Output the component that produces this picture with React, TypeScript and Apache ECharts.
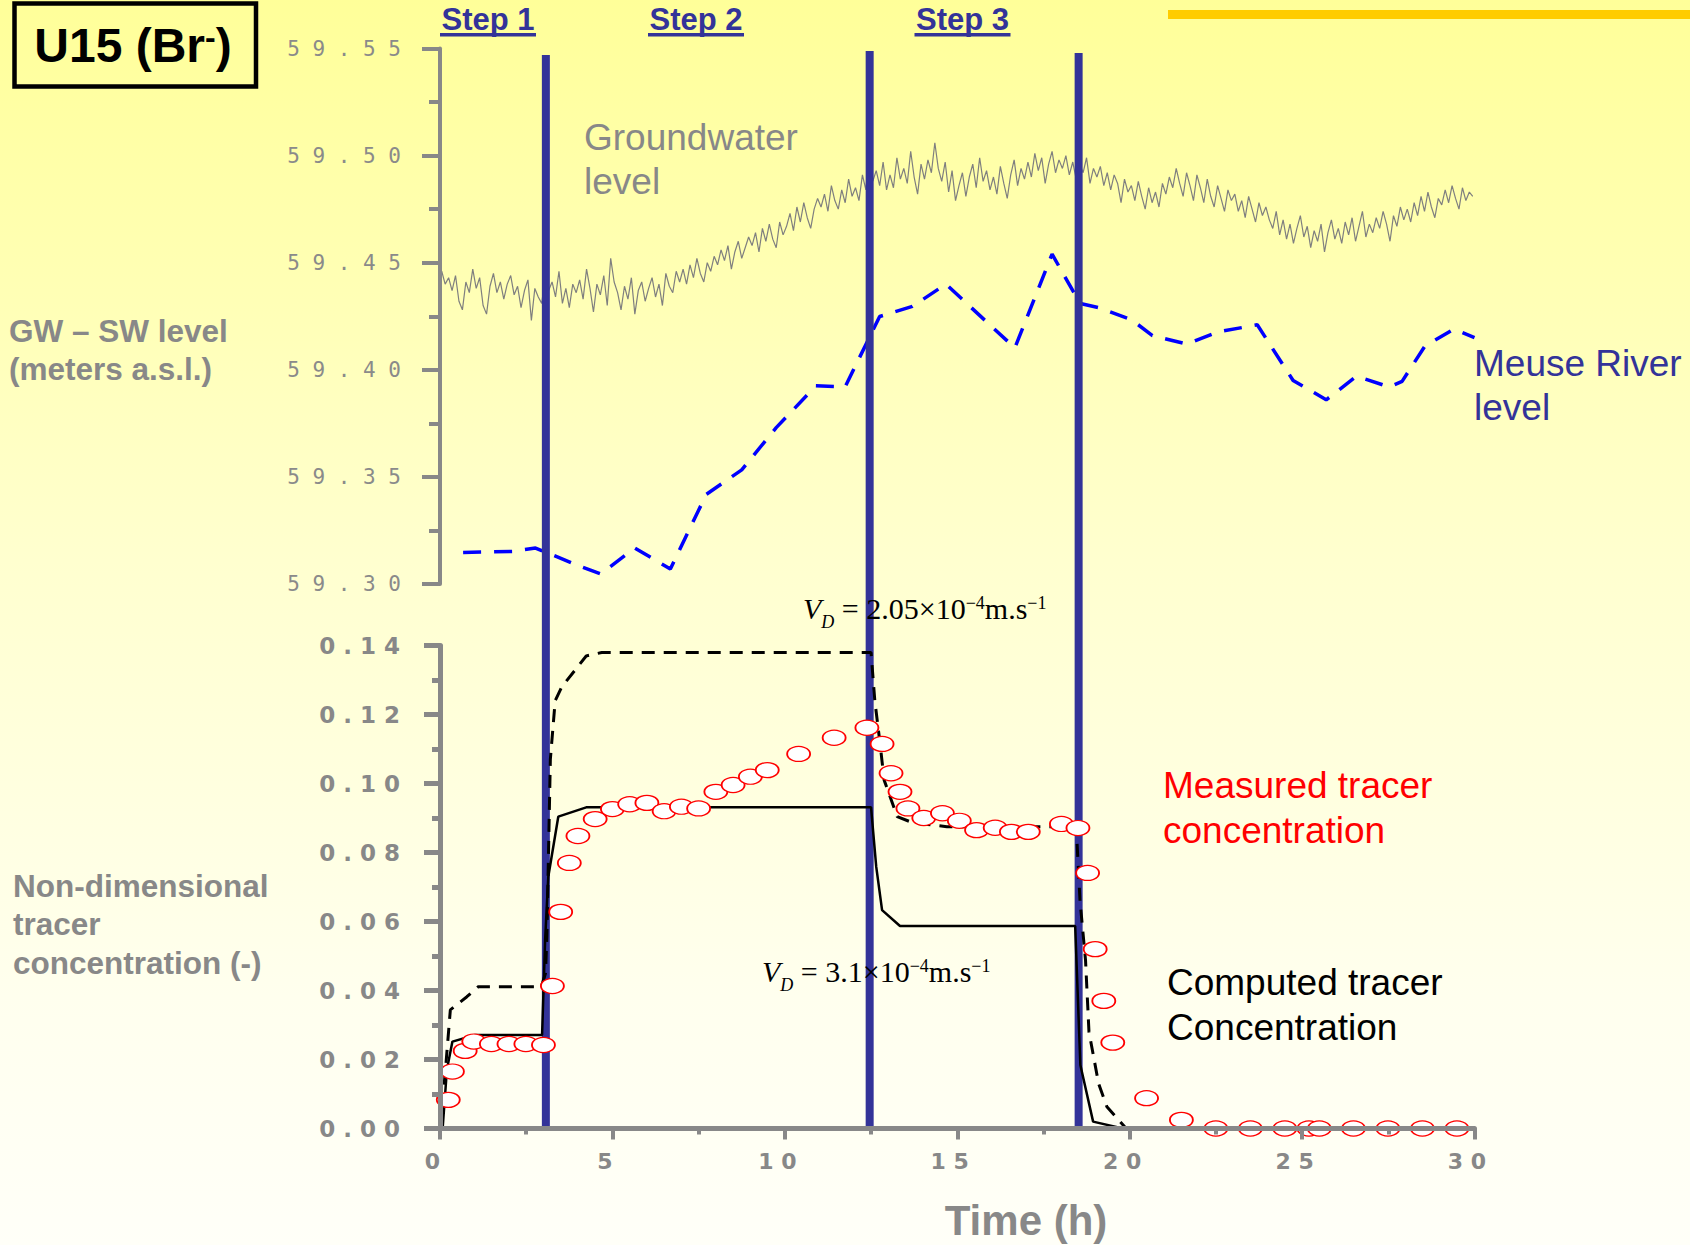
import React, { useEffect, useRef } from "react";
import * as echarts from "echarts";

// ---------------- data ----------------
const timeMin = 0;
const timeMax = 30;
const timeInterval = 5;

const levelMin = 59.3;
const levelMax = 59.55;
const levelInterval = 0.05;

const concMin = 0;
const concMax = 0.14;
const concInterval = 0.02;

// Groundwater level (m a.s.l.), sampled every 0.1 h from t = 0.05 h (one row per hour)
const gwStart = 0.05;
const gwStep = 0.1;
const gwLevel = [
  59.446, 59.44, 59.443, 59.437, 59.444, 59.432, 59.428, 59.441, 59.436, 59.447,
  59.438, 59.443, 59.43, 59.426, 59.439, 59.445, 59.436, 59.441, 59.433, 59.44,
  59.444, 59.435, 59.439, 59.429, 59.437, 59.442, 59.423, 59.438, 59.434, 59.431,
  59.443, 59.437, 59.441, 59.434, 59.446, 59.431, 59.438, 59.429, 59.44, 59.436,
  59.442, 59.433, 59.447, 59.438, 59.427, 59.44, 59.435, 59.444, 59.43, 59.452,
  59.441, 59.436, 59.428, 59.439, 59.433, 59.443, 59.426, 59.437, 59.441, 59.432,
  59.438, 59.443, 59.434, 59.44, 59.43, 59.445, 59.439, 59.436, 59.446, 59.441,
  59.447, 59.44, 59.449, 59.443, 59.452, 59.445, 59.441, 59.45, 59.446, 59.453,
  59.449, 59.456, 59.451, 59.458, 59.447, 59.455, 59.46, 59.452, 59.457, 59.462,
  59.458, 59.464, 59.455, 59.466, 59.46, 59.468, 59.461, 59.457, 59.469, 59.463,
  59.467, 59.473, 59.465, 59.476, 59.469, 59.478, 59.471, 59.466, 59.475, 59.48,
  59.476, 59.482, 59.474, 59.486, 59.479, 59.475, 59.484, 59.478, 59.489, 59.481,
  59.485, 59.479, 59.491, 59.484, 59.503, 59.488, 59.493, 59.486, 59.497, 59.484,
  59.491, 59.485, 59.499, 59.489, 59.494, 59.487, 59.502, 59.49, 59.482, 59.496,
  59.489, 59.498, 59.492, 59.506, 59.494, 59.488, 59.497, 59.483, 59.493, 59.479,
  59.486, 59.492, 59.481, 59.49, 59.496, 59.485, 59.499, 59.488, 59.493, 59.484,
  59.49, 59.482, 59.495, 59.487, 59.48, 59.491, 59.498, 59.486, 59.494, 59.489,
  59.497, 59.49, 59.501, 59.493, 59.499, 59.487, 59.496, 59.502, 59.492, 59.498,
  59.494, 59.5, 59.491, 59.497, 59.489, 59.496, 59.492, 59.499, 59.487, 59.494,
  59.49, 59.495, 59.486, 59.492, 59.484, 59.491, 59.487, 59.478, 59.489, 59.483,
  59.486, 59.479, 59.488, 59.481, 59.475, 59.485, 59.478, 59.483, 59.476, 59.487,
  59.482, 59.49, 59.485, 59.494, 59.487, 59.481, 59.492, 59.486, 59.479, 59.491,
  59.485, 59.478, 59.489, 59.481, 59.476, 59.486, 59.48, 59.474, 59.484, 59.479,
  59.482, 59.474, 59.479, 59.471, 59.481, 59.475, 59.469, 59.478, 59.472, 59.476,
  59.47, 59.466, 59.474, 59.463, 59.47, 59.461, 59.468, 59.459, 59.466, 59.472,
  59.462, 59.467, 59.457, 59.465, 59.46, 59.468, 59.455, 59.464, 59.47, 59.461,
  59.466, 59.459, 59.469, 59.463, 59.471, 59.46, 59.467, 59.474, 59.462, 59.468,
  59.464, 59.471, 59.466, 59.474, 59.468, 59.46, 59.472, 59.467, 59.476, 59.47,
  59.475, 59.469, 59.478, 59.472, 59.481, 59.474, 59.483, 59.476, 59.471, 59.48,
  59.477, 59.484, 59.478, 59.486, 59.48, 59.475, 59.485, 59.479, 59.483, 59.481,
];

// Meuse River level
const riverTime = [
  0.67, 2.1, 2.77, 4.1, 4.66, 5.65, 6.68, 7.72, 8.75, 9.75, 10.9, 11.75, 12.75, 13.7, 14.67, 16.67,
  17.75, 18.56, 19.1, 20.06, 20.66, 21.66, 22.56, 23.7, 24.74, 25.7, 26.58, 27.53, 27.9, 28.56, 29.4, 30.0,
];
const riverLevel = [
  59.3147, 59.3152, 59.3168, 59.308, 59.3047, 59.3168, 59.307, 59.3418, 59.3533, 59.373, 59.3925, 59.3921,
  59.4249, 59.4296, 59.44, 59.4102, 59.454, 59.431, 59.429, 59.4233, 59.416, 59.412, 59.4177, 59.421,
  59.395, 59.386, 59.397, 59.392, 59.3946, 59.411, 59.419, 59.415,
];

// Measured tracer concentration
const measTime = [
  0.24, 0.36, 0.73, 0.98, 1.49, 2.0, 2.49, 3.0, 3.26, 3.5, 3.75, 4.0, 4.5, 5.0, 5.5, 6.0, 6.5, 7.0,
  7.5, 8.0, 8.5, 9.0, 9.49, 10.4, 11.43, 12.38, 12.82, 13.08, 13.34, 13.57, 14.03, 14.57, 15.06, 15.56,
  16.1, 16.57, 17.06, 18.02, 18.5, 18.78, 19.0, 19.25, 19.51, 20.49, 21.5, 22.5, 23.5, 24.5, 25.2, 25.5,
  26.49, 27.49, 28.49, 29.49,
];
const measConc = [
  0.0083, 0.0165, 0.0225, 0.0252, 0.0245, 0.0245, 0.0245, 0.0242, 0.0413, 0.0628, 0.077, 0.0848, 0.0897,
  0.0926, 0.094, 0.0944, 0.092, 0.0933, 0.0928, 0.0976, 0.0996, 0.102, 0.1039, 0.1086, 0.1133, 0.1162,
  0.1115, 0.103, 0.0976, 0.0928, 0.09, 0.0914, 0.0892, 0.0865, 0.0872, 0.086, 0.086, 0.0883, 0.0871,
  0.0741, 0.052, 0.037, 0.0249, 0.0088, 0.0025, 0, 0, 0, 0, 0, 0, 0, 0, 0,
];

// Computed concentration, V_D = 3.1e-4 m/s (solid)
const fastTime = [0, 0.08, 0.2, 0.36, 1.02, 2.96, 3.05, 3.14, 3.43, 4.24, 12.5, 12.65, 12.82, 13.34, 18.42, 18.57, 18.94, 19.8, 30];
const fastConc = [0, 0.0005, 0.017, 0.0252, 0.0271, 0.0271, 0.055, 0.073, 0.0904, 0.0931, 0.0931, 0.0759, 0.0633, 0.0587, 0.0587, 0.0184, 0.002, 0, 0];

// Computed concentration, V_D = 2.05e-4 m/s (dashed)
const slowTime = [
  0, 0.15, 0.3, 0.78, 1.11, 2.94, 3.06, 3.1, 3.2, 3.34, 3.53, 4.24, 4.69, 12.5, 12.61, 12.76, 12.88,
  13.26, 13.72, 14.7, 18.45, 18.56, 18.72, 18.82, 19.1, 19.34, 19.9, 30,
];
const slowConc = [
  0, 0.016, 0.0344, 0.0382, 0.0411, 0.0411, 0.045, 0.056, 0.107, 0.124, 0.128, 0.137, 0.138, 0.138, 0.124,
  0.1117, 0.101, 0.0904, 0.0886, 0.0875, 0.0875, 0.066, 0.0488, 0.028, 0.013, 0.0063, 0, 0,
];

// Step boundaries (h) and their top (fraction of the full plot height)
const stepTimes = [3.07, 12.46, 18.52];
const stepTops = [0.994, 0.9977, 0.9958];
const stepLabels = ["Step 1", "Step 2", "Step 3"];

// ---------------- styling / layout ----------------
const W = 1690;
const H = 1245;
const GREY = "#888888";
const NAVY = "#333399";
const SANS = "Liberation Sans, Arial, sans-serif";
const SERIF = "Liberation Serif, Times New Roman, serif";
const PLOT_LEFT = 440;
const PLOT_W = 1034.5;
const TOP_Y0 = 48.5;
const TOP_Y1 = 584;
const BOT_Y0 = 645.6;
const BOT_Y1 = 1128.5;
const stepLabelX = [488, 696, 962.5];

const bgStops = [
  { offset: 0, color: "#FFFF99" },
  { offset: 0.45, color: "#FFFFCF" },
  { offset: 0.8, color: "#FFFFEE" },
  { offset: 1, color: "#FFFFF8" },
];

const spaced = (s: string) => s.split("").join(" ");
const zip = (a: number[], b: number[]) => a.map((v, i) => [v, b[i]]);

function txt(x: number, y: number, text: string, o: any) {
  return {
    type: "text",
    x,
    y,
    z: 20,
    style: {
      text,
      fontFamily: SANS,
      align: o.align || "left",
      textAlign: o.align || "left",
      verticalAlign: "middle",
      textVerticalAlign: "middle",
      ...o,
    },
  };
}

function vdRich(x: number, y: number, value: string) {
  const base = { fontFamily: SERIF, fill: "#000", verticalAlign: "bottom" };
  return {
    type: "text",
    x,
    y,
    z: 20,
    style: {
      text: `{v|V}{d|D}{n| = ${value}×10}{p|−4}{n|m.s}{p|−1}`,
      verticalAlign: "middle",
      textVerticalAlign: "middle",
      rich: {
        v: { ...base, fontSize: 30, fontStyle: "italic", padding: [0, 0, 7, 0] },
        d: { ...base, fontSize: 18, fontStyle: "italic" },
        n: { ...base, fontSize: 30, padding: [0, 0, 7, 0] },
        p: { ...base, fontSize: 18, verticalAlign: "top" },
      },
    },
  };
}

function buildOption() {
  const bg = new echarts.graphic.LinearGradient(0, 0, 0, 1, bgStops);
  const coverFill = new echarts.graphic.LinearGradient(0, 0, 0, H, bgStops, true);

  const hiddenX = (gridIndex: number) => ({ gridIndex, type: "value", min: timeMin, max: timeMax, show: false });

  const stepSeries = stepTimes.map((t, i) => ({
    type: "line",
    xAxisIndex: 2,
    yAxisIndex: 2,
    symbol: "none",
    lineStyle: { color: NAVY, width: 8, cap: "butt" },
    data: [
      [t, 0],
      [t, stepTops[i]],
    ],
    z: 3,
  }));

  const graphics: any[] = [
    // title box
    {
      type: "rect",
      z: 20,
      shape: { x: 14.5, y: 3.5, width: 241.5, height: 83 },
      style: { fill: "transparent", stroke: "#000", lineWidth: 4.5 },
    },
    {
      type: "text",
      x: 133,
      y: 45,
      z: 20,
      style: {
        text: "{a|U15 (Br}{s|-}{a|)}",
        align: "center",
        textAlign: "center",
        verticalAlign: "middle",
        textVerticalAlign: "middle",
        rich: {
          a: { fontFamily: SANS, fontWeight: "bold", fontSize: 48, fill: "#000", verticalAlign: "bottom" },
          s: { fontFamily: SANS, fontWeight: "bold", fontSize: 32, fill: "#000", verticalAlign: "top" },
        },
      },
    },
    // top-right decorative bar
    { type: "rect", z: 20, shape: { x: 1168, y: 10, width: 522, height: 9 }, style: { fill: "#FFCC00" } },
    // axis titles
    txt(9, 350, "GW – SW level\n(meters a.s.l.)", { fontSize: 31.5, fontWeight: "bold", fill: GREY, lineHeight: 38 }),
    txt(13, 924, "Non-dimensional\ntracer\nconcentration (-)", { fontSize: 31.5, fontWeight: "bold", fill: GREY, lineHeight: 38.5 }),
    txt(1026, 1220, "Time (h)", { fontSize: 42, fontWeight: "bold", fill: GREY, align: "center" }),
    // series annotations
    txt(584, 159, "Groundwater\nlevel", { fontSize: 37, fill: GREY, lineHeight: 44 }),
    txt(1474, 385, "Meuse River\nlevel", { fontSize: 37, fill: NAVY, lineHeight: 44 }),
    txt(1163, 808, "Measured tracer\nconcentration", { fontSize: 37, fill: "#FF0000", lineHeight: 45 }),
    txt(1167, 1005, "Computed tracer\nConcentration", { fontSize: 37, fill: "#000000", lineHeight: 45 }),
    vdRich(803, 612, "2.05"),
    vdRich(762, 975, "3.1"),
    // cover below x axis to clip the measured circles at zero
    {
      type: "rect",
      z: 3,
      shape: { x: 1150, y: 1131, width: 345, height: 12 },
      style: { fill: coverFill },
    },
  ];

  stepLabels.forEach((label, i) => {
    graphics.push(txt(stepLabelX[i], 19, label, { fontSize: 31, fontWeight: "bold", fill: NAVY, align: "center" }));
    graphics.push({
      type: "rect",
      z: 20,
      shape: { x: stepLabelX[i] - 48, y: 33, width: 96, height: 3.5 },
      style: { fill: NAVY },
    });
  });

  return {
    animation: false,
    backgroundColor: bg,
    grid: [
      { left: PLOT_LEFT, top: TOP_Y0, width: PLOT_W, height: TOP_Y1 - TOP_Y0 },
      { left: PLOT_LEFT, top: BOT_Y0, width: PLOT_W, height: BOT_Y1 - BOT_Y0 },
      { left: PLOT_LEFT, top: TOP_Y0, width: PLOT_W, height: BOT_Y1 - TOP_Y0 },
    ],
    xAxis: [
      hiddenX(0),
      {
        gridIndex: 1,
        type: "value",
        min: timeMin,
        max: timeMax,
        interval: timeInterval,
        z: 10,
        axisLine: { show: true, onZero: false, lineStyle: { color: GREY, width: 5 } },
        axisTick: { show: true, length: 11, lineStyle: { color: GREY, width: 4 } },
        minorTick: { show: true, splitNumber: 2, length: 6, lineStyle: { color: GREY, width: 4 } },
        splitLine: { show: false },
        minorSplitLine: { show: false },
        axisLabel: {
          margin: 22,
          color: GREY,
          fontFamily: "DejaVu Sans",
          fontWeight: "bold",
          fontSize: 22,
          padding: [0, 15, 0, 0],
          formatter: (v: number) => spaced(String(v)),
        },
      },
      hiddenX(2),
    ],
    yAxis: [
      {
        gridIndex: 0,
        type: "value",
        min: levelMin,
        max: levelMax,
        interval: levelInterval,
        z: 10,
        axisLine: { show: true, lineStyle: { color: GREY, width: 4 } },
        axisTick: { show: true, length: 18, lineStyle: { color: GREY, width: 4 } },
        minorTick: { show: true, splitNumber: 2, length: 11, lineStyle: { color: GREY, width: 4 } },
        splitLine: { show: false },
        minorSplitLine: { show: false },
        axisLabel: {
          margin: 39,
          color: "#8a8a8a",
          fontFamily: "DejaVu Sans Mono",
          fontSize: 21,
          formatter: (v: number) => spaced(v.toFixed(2)),
        },
      },
      {
        gridIndex: 1,
        type: "value",
        min: concMin,
        max: concMax,
        interval: concInterval,
        z: 10,
        axisLine: { show: true, lineStyle: { color: GREY, width: 5 } },
        axisTick: { show: true, length: 16, lineStyle: { color: GREY, width: 5 } },
        minorTick: { show: true, splitNumber: 2, length: 8, lineStyle: { color: GREY, width: 5 } },
        splitLine: { show: false },
        minorSplitLine: { show: false },
        axisLabel: {
          margin: 40,
          color: GREY,
          fontFamily: "DejaVu Sans",
          fontWeight: "bold",
          fontSize: 23,
          formatter: (v: number) => spaced(v.toFixed(2)),
        },
      },
      { gridIndex: 2, type: "value", min: 0, max: 1, show: false },
    ],
    graphic: graphics,
    series: [
      {
        name: "Groundwater level",
        type: "line",
        xAxisIndex: 0,
        yAxisIndex: 0,
        symbol: "none",
        lineStyle: { color: "#7f7f7f", width: 1.2 },
        data: gwLevel.map((v, i) => [gwStart + i * gwStep, v]),
      },
      {
        name: "Meuse River level",
        type: "line",
        xAxisIndex: 0,
        yAxisIndex: 0,
        symbol: "none",
        lineStyle: { color: "#0000FF", width: 3.5, type: [18, 13] },
        data: zip(riverTime, riverLevel),
      },
      ...stepSeries,
      {
        name: "Computed VD 3.1e-4",
        type: "line",
        xAxisIndex: 1,
        yAxisIndex: 1,
        symbol: "none",
        z: 4,
        lineStyle: { color: "#000", width: 2.5 },
        data: zip(fastTime, fastConc),
      },
      {
        name: "Computed VD 2.05e-4",
        type: "line",
        xAxisIndex: 1,
        yAxisIndex: 1,
        symbol: "none",
        z: 4,
        lineStyle: { color: "#000", width: 3, type: [13, 9] },
        data: zip(slowTime, slowConc),
      },
      {
        name: "Measured tracer concentration",
        type: "scatter",
        xAxisIndex: 1,
        yAxisIndex: 1,
        symbol: "circle",
        symbolSize: [23, 15],
        z: 5,
        itemStyle: { color: "#FFFFFF", borderColor: "#FF0000", borderWidth: 1.5, opacity: 1 },
        data: zip(measTime, measConc),
      },
    ],
  };
}

export default function App() {
  const ref = useRef<HTMLDivElement>(null);
  useEffect(() => {
    if (!ref.current) return;
    const chart = echarts.init(ref.current, undefined, { renderer: "svg", width: W, height: H });
    chart.setOption(buildOption() as any);
    return () => chart.dispose();
  }, []);
  return <div ref={ref} style={{ position: "absolute", left: 0, top: 0, width: W, height: H }} />;
}
